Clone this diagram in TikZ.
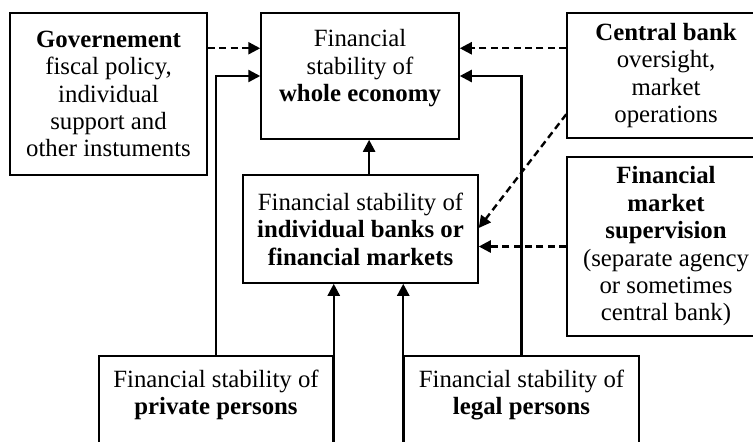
\documentclass[tikz,border=0pt]{standalone}
\usepackage{fontspec}
\setmainfont{Liberation Serif}
\usetikzlibrary{arrows.meta}
\begin{document}
\begin{tikzpicture}[x=0.5pt,y=-0.5pt,
  box/.style={draw, line width=0.75pt, inner sep=0pt, align=center,
    font=\fontsize{12.4pt}{13.7pt}\selectfont},
  txt/.style={inner sep=0pt, align=center, font=\fontsize{12.4pt}{13.7pt}\selectfont},
  arr/.style={line width=1.2pt, -{Triangle[length=6pt,width=6pt]}},
  dasharr/.style={arr, dash pattern=on 3.5pt off 2.2pt}]
\useasboundingbox (0,0) rectangle (753,441);
\clip (0,0) rectangle (753,441);

% boxes
\node[box, minimum width=98.5pt, minimum height=81pt] (gov) at (108.5,94)
  {\textbf{Governement}\\fiscal policy,\\individual\\support and\\other instuments};
\node[box, minimum width=99pt, minimum height=63pt] (we) at (360,76) {};
\node[txt, anchor=north] (wetxt) at ([yshift=-8.5pt]we.north)
  {Financial\\stability of\\\textbf{whole economy}};
\node[box, minimum width=99pt, minimum height=62.5pt] (cb) at (666,75.5)
  {\textbf{Central bank}\\oversight,\\market\\operations};
\node[box, minimum width=99pt, minimum height=89.5pt] (fms) at (666,246.5)
  {\textbf{Financial}\\\textbf{market}\\\textbf{supervision}\\(separate agency\\or sometimes\\central bank)};
\node[box, minimum width=117.5pt, minimum height=54pt] (mid) at (360.5,229)
  {Financial stability of\\\textbf{individual banks or}\\\textbf{financial markets}};
\node[box, anchor=north, minimum width=117pt, minimum height=50pt] (pp) at (216,355)
  {Financial stability of\\\textbf{private persons}\\\mbox{}};
\node[box, anchor=north, minimum width=117.5pt, minimum height=50pt] (lp) at (521.5,355)
  {Financial stability of\\\textbf{legal persons}\\\mbox{}};

% solid connectors
\draw[arr] ([xshift=4.3pt]mid.north) -- ([xshift=4.3pt]mid.north |- we.south);
\draw[arr] (pp.north) |- (we.west);
\draw[arr] (lp.north) |- (we.east);
\draw[arr] (pp.south east) -- (pp.south east |- mid.south);
\draw[arr] (lp.south west) -- (lp.south west |- mid.south);

% dashed connectors
\draw[dasharr] ([yshift=-18pt]gov.north east) -- ([yshift=-18pt]we.north west);
\draw[dasharr] ([yshift=-18pt]cb.north west) -- ([yshift=-18pt]we.north east);
\draw[dasharr] ([yshift=-51pt]cb.north west) -- ([yshift=0.5pt]mid.east);
\draw[dasharr] (fms.west) -- (fms.west -| mid.east);
\end{tikzpicture}
\end{document}
